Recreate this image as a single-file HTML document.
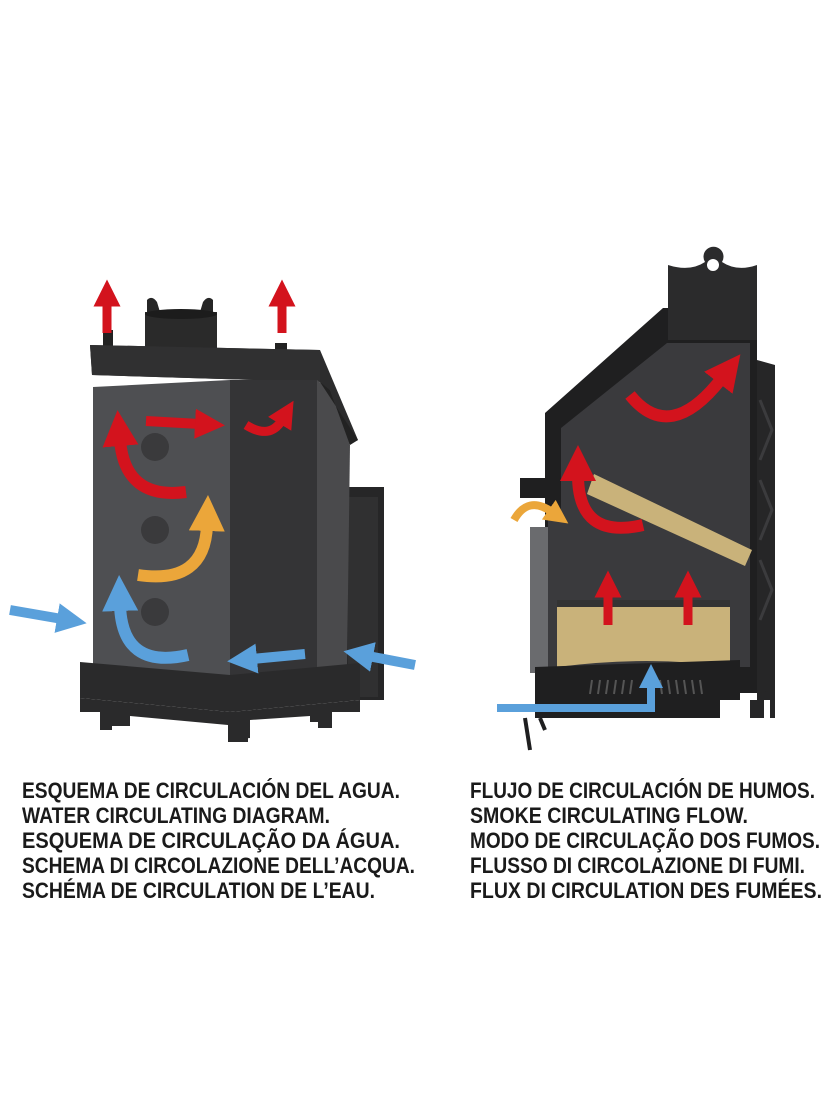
<!DOCTYPE html>
<html><head><meta charset="utf-8"><style>
html,body{margin:0;padding:0;background:#fff;}
svg{display:block;}
text{font-family:"Liberation Sans Narrow","Liberation Sans",sans-serif;font-weight:bold;font-size:22px;fill:#1a1a1a;}
</style></head><body>
<svg width="840" height="1120" viewBox="0 0 840 1120" xmlns="http://www.w3.org/2000/svg">
<defs>
<marker id="mr" markerWidth="3" markerHeight="3" refX="0.5" refY="1.5" orient="auto" markerUnits="strokeWidth"><path d="M0,0 L3,1.5 L0,3 Z" fill="#d3131d"/></marker>
<marker id="mo" markerWidth="3" markerHeight="3" refX="0.5" refY="1.5" orient="auto" markerUnits="strokeWidth"><path d="M0,0 L3,1.5 L0,3 Z" fill="#eba63a"/></marker>
<marker id="mb" markerWidth="3" markerHeight="3" refX="0.5" refY="1.5" orient="auto" markerUnits="strokeWidth"><path d="M0,0 L3,1.5 L0,3 Z" fill="#5aa0db"/></marker>
</defs>

<path d="M147,313 L147,300 Q152,295 157,302 L160,312 L200,312 L203,302 Q208,295 213,300 L213,313 Z" fill="#262626"/>
<rect x="145" y="312" width="72" height="42" fill="#2a2a2a"/>
<ellipse cx="181" cy="314" rx="36" ry="5" fill="#1c1c1c"/>
<rect x="103" y="330" width="10" height="18" fill="#222"/>
<rect x="275" y="343" width="12" height="10" fill="#222"/>
<polygon points="90,345 320,350 358,440 348,445 320,382 92,375" fill="#2c2c2d"/>
<polygon points="90,345 320,350 320,382 92,375" fill="#303031"/>
<polygon points="340,487 384,487 384,700 340,700" fill="#262627"/>
<rect x="348" y="497" width="30" height="200" fill="#303031"/>
<polygon points="93,387 230,380 230,677 93,668" fill="#4e4f52"/>
<polygon points="230,380 317,380 317,670 230,677" fill="#343436"/>
<polygon points="317,380 330,390 350,445 347,668 317,670" fill="#4a4a4c"/>
<polygon points="330,390 320,382 358,440 350,445" fill="#222"/>
<circle cx="155" cy="447" r="14" fill="#3a3a3c"/><circle cx="155" cy="530" r="14" fill="#3a3a3c"/><circle cx="155" cy="612" r="14" fill="#3a3a3c"/>
<polygon points="80,662 230,675 360,663 360,700 230,712 80,698" fill="#2a2a2b"/>
<polygon points="80,698 230,712 360,700 360,712 330,712 330,722 310,722 310,716 250,720 250,738 228,740 228,725 130,716 130,726 110,726 110,712 80,712" fill="#2a2a2b"/>
<rect x="100" y="712" width="12" height="18" fill="#2a2a2b"/>
<rect x="228" y="712" width="20" height="30" fill="#2a2a2b"/>
<rect x="318" y="708" width="14" height="20" fill="#2a2a2b"/>
<g fill="none" stroke-linecap="butt">
<path d="M107,333 L107,302" stroke="#d3131d" stroke-width="9" marker-end="url(#mr)"/>
<path d="M282,333 L282,302" stroke="#d3131d" stroke-width="9" marker-end="url(#mr)"/>
<path d="M186,492 Q125,500 120,440" stroke="#d3131d" stroke-width="12" marker-end="url(#mr)"/>
<path d="M146,421 L200,424" stroke="#d3131d" stroke-width="10" marker-end="url(#mr)"/>
<path d="M246,425 Q270,440 282,420" stroke="#d3131d" stroke-width="9" marker-end="url(#mr)"/>
<path d="M138,575 Q205,585 207,525" stroke="#eba63a" stroke-width="12" marker-end="url(#mo)"/>
<path d="M188,655 Q122,670 120,605" stroke="#5aa0db" stroke-width="12" marker-end="url(#mb)"/>
<path d="M10,610 L62,619" stroke="#5aa0db" stroke-width="10" marker-end="url(#mb)"/>
<path d="M415,665 L368,656" stroke="#5aa0db" stroke-width="10" marker-end="url(#mb)"/>
<path d="M305,654 L252,659" stroke="#5aa0db" stroke-width="10" marker-end="url(#mb)"/>
</g>

<path d="M668,265 Q690,272 705,262 A10,10 0 1 1 722,262 Q737,272 757,265 L757,340 L668,340 Z" fill="#2b2b2c"/>
<circle cx="713" cy="265" r="6" fill="#fff"/>
<polygon points="545,413 663,308 668,308 668,340 757,340 757,693 545,693" fill="#1f1f20"/>
<polygon points="561,428 667,343 750,343 750,667 548,667 548,517 561,517" fill="#3a3a3d"/>
<polygon points="757,360 775,365 775,693 757,693" fill="#262627"/>
<path d="M760,400 L772,430 L760,460 M760,480 L772,510 L760,540 M760,560 L772,590 L760,620" stroke="#3b3b3d" stroke-width="3" fill="none"/>
<rect x="520" y="478" width="28" height="20" fill="#1f1f20"/>
<rect x="530" y="527" width="18" height="146" fill="#6a6b6e"/>
<polygon points="594,474 752,550 745,566 587,494" fill="#c9b27a"/>
<path d="M557,607 L730,607 L730,667 Q650,655 557,667 Z" fill="#c9b27a"/>
<rect x="557" y="600" width="173" height="7" fill="#333"/>
<polygon points="535,667 740,660 740,700 720,700 720,718 535,718" fill="#1f1f20"/>
<g stroke="#555" stroke-width="2"><path d="M592,680 l-2,14 M600,680 l-2,14 M608,680 l-2,14 M616,680 l-2,14 M624,680 l-2,14 M632,680 l-2,14 M660,680 l2,14 M668,680 l2,14 M676,680 l2,14 M684,680 l2,14 M692,680 l2,14 M700,680 l2,14"/></g>
<polygon points="757,693 775,690 775,718 770,718 770,700 757,700" fill="#262627"/>
<rect x="750" y="700" width="14" height="18" fill="#262627"/>
<path d="M525,718 L530,750 M540,718 L545,730" stroke="#1f1f20" stroke-width="4"/>
<g fill="none">
<path d="M630,395 Q670,445 722,378" stroke="#d3131d" stroke-width="12" marker-end="url(#mr)"/>
<path d="M643,525 Q578,540 578,475" stroke="#d3131d" stroke-width="12" marker-end="url(#mr)"/>
<path d="M608,625 L608,593" stroke="#d3131d" stroke-width="9" marker-end="url(#mr)"/>
<path d="M688,625 L688,593" stroke="#d3131d" stroke-width="9" marker-end="url(#mr)"/>
<path d="M514,520 Q528,495 552,512" stroke="#eba63a" stroke-width="8" marker-end="url(#mo)"/>
<path d="M497,708 L651,708 L651,684" stroke="#5aa0db" stroke-width="8" marker-end="url(#mb)"/>
</g>

<text x="22" y="798" textLength="378" lengthAdjust="spacingAndGlyphs">ESQUEMA DE CIRCULACIÓN DEL AGUA.</text>
<text x="22" y="823" textLength="308" lengthAdjust="spacingAndGlyphs">WATER CIRCULATING DIAGRAM.</text>
<text x="22" y="848" textLength="378" lengthAdjust="spacingAndGlyphs">ESQUEMA DE CIRCULAÇÃO DA ÁGUA.</text>
<text x="22" y="873" textLength="393" lengthAdjust="spacingAndGlyphs">SCHEMA DI CIRCOLAZIONE DELL’ACQUA.</text>
<text x="22" y="898" textLength="353" lengthAdjust="spacingAndGlyphs">SCHÉMA DE CIRCULATION DE L’EAU.</text>
<text x="470" y="798" textLength="345" lengthAdjust="spacingAndGlyphs">FLUJO DE CIRCULACIÓN DE HUMOS.</text>
<text x="470" y="823" textLength="278" lengthAdjust="spacingAndGlyphs">SMOKE CIRCULATING FLOW.</text>
<text x="470" y="848" textLength="350" lengthAdjust="spacingAndGlyphs">MODO DE CIRCULAÇÃO DOS FUMOS.</text>
<text x="470" y="873" textLength="335" lengthAdjust="spacingAndGlyphs">FLUSSO DI CIRCOLAZIONE DI FUMI.</text>
<text x="470" y="898" textLength="352" lengthAdjust="spacingAndGlyphs">FLUX DI CIRCULATION DES FUMÉES.</text>
</svg>
</body></html>
